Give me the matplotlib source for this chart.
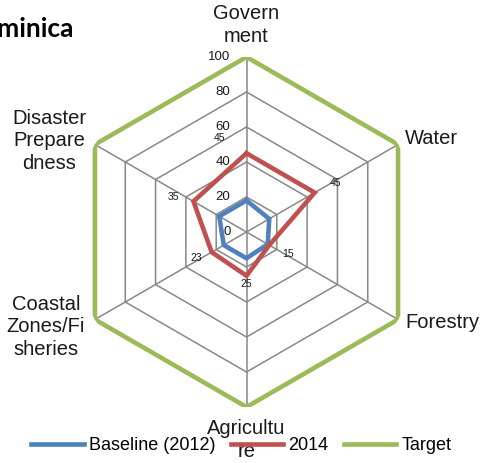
import matplotlib.pyplot as plt
import numpy as np

plt.rcParams['font.family'] = ['Liberation Sans', 'DejaVu Sans']

categories = ['Govern\nment', 'Water', 'Forestry', 'Agricultu\nre', 'Coastal\nZones/Fi\nsheries', 'Disaster\nPrepare\ndness']
baseline = [18, 15, 14, 15, 15, 18]
y2014 = [45, 45, 15, 25, 23, 35]
target = [100, 100, 100, 100, 100, 100]
ticks = [0, 20, 40, 60, 80, 100]

W, H = 483, 463
fig = plt.figure(figsize=(W / 100, H / 100), dpi=100)
cx, cy, R = 246.5, 232, 175
ax = fig.add_axes([(cx - R) / W, (H - cy - R) / H, 2 * R / W, 2 * R / H], projection='polar')
ax.set_theta_zero_location('N')
ax.set_theta_direction(-1)
ax.set_ylim(0, 100)
ax.axis('off')

theta = np.deg2rad(np.arange(len(categories)) * 60)
th_closed = np.append(theta, theta[0])

def closed(v):
    return np.append(v, v[0])

# hexagonal grid and spokes
for t in ticks[1:]:
    ax.plot(th_closed, closed([t] * len(categories)), color='#888888', lw=1.1, zorder=1)
for a in theta:
    ax.plot([a, a], [0, 100], color='#888888', lw=1.1, zorder=1)

# tick labels next to the top spoke
for t in ticks:
    ax.annotate(str(t), (0, t), xytext=(-16, 0), textcoords='offset pixels',
                ha='right', va='center', fontsize=9.5, color='#1a1a1a')

lb, = ax.plot(th_closed, closed(baseline), color='#4F81BD', lw=3.3, zorder=3, solid_joinstyle='miter')
lr, = ax.plot(th_closed, closed(y2014), color='#C0504D', lw=3.3, zorder=3, solid_joinstyle='miter')
lg, = ax.plot(th_closed, closed(target), color='#9BBB59', lw=3.3, zorder=3, solid_joinstyle='miter')

# 2014 data labels
offsets = [(-27, 15), (21, 10), (19, -9), (0, -8), (-15, -6), (-20, 4)]
for a, v, off in zip(theta, y2014, offsets):
    ax.annotate(str(v), (a, v), xytext=off, textcoords='offset pixels',
                ha='center', va='center', fontsize=7.5, color='#1a1a1a', zorder=4)

# category labels
label_pos = [(246.5, 25, 'center'), (405, 139, 'left'), (405, 322, 'left'),
             (246.5, 440, 'center'), (46, 327, 'center'), (49, 141, 'center')]
for name, (x, y, ha) in zip(categories, label_pos):
    fig.text(x / W, 1 - y / H, name, ha=ha, va='center', fontsize=14.5,
             linespacing=1.25, color='#1a1a1a', multialignment='center')

fig.text(74 / W, 1 - 29 / H, 'Dominica', ha='right', va='center', fontsize=19,
         fontweight='bold', family=['Lato', 'DejaVu Sans'])

fig.legend([lb, lr, lg], ['Baseline (2012)', '2014', 'Target'], loc='center',
           bbox_to_anchor=(0.5, 1 - 446 / H), ncol=3, frameon=False, fontsize=13,
           handlelength=2.9, handletextpad=0.3, columnspacing=0.85, borderpad=0)

fig.savefig('out.png', dpi=100)
